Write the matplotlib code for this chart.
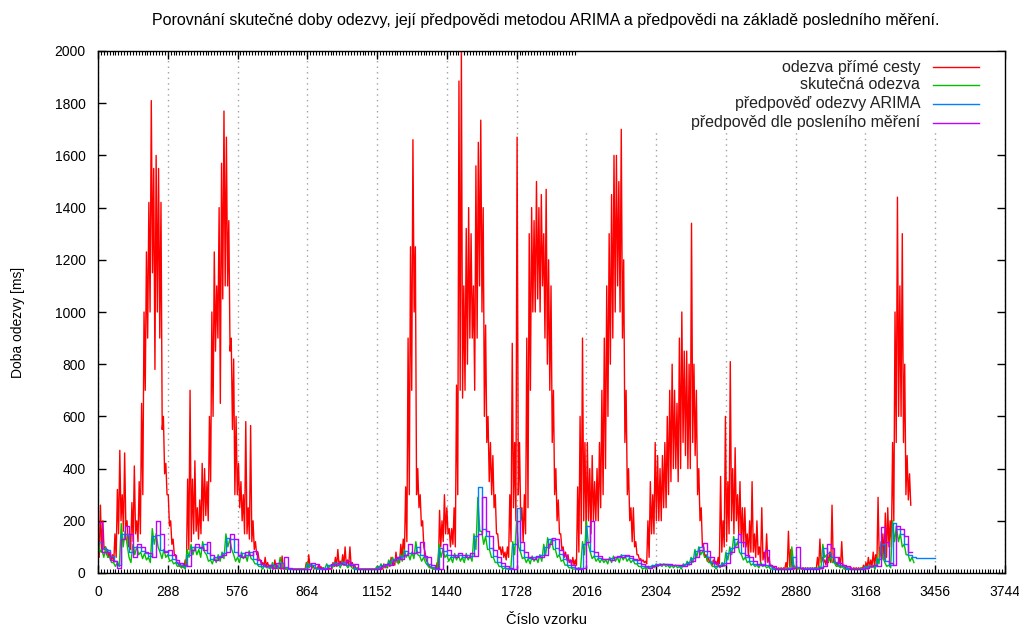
import numpy as np
import matplotlib
matplotlib.use('Agg')
import matplotlib.pyplot as plt
from matplotlib.ticker import MultipleLocator
from matplotlib.patches import Rectangle

plt.rcParams['font.family'] = ['Liberation Sans', 'DejaVu Sans']

# odezva prime cesty: maximum a minimum v kazdem useku 10 vzorku
krok_prima = 10
prima_max = [
    100, 260, 200, 100, 90, 80, 70, 150, 320, 470, 300, 460, 200, 150, 270, 410, 200, 350,
    650, 1000, 1230, 1420, 1810, 1550, 1600, 1550, 1420, 600, 420, 300, 200, 130, 70, 40, 35, 30, 50,
    360, 700, 360, 430, 250, 280, 420, 400, 350, 600, 1000, 1230, 1100, 1400, 1570, 1770, 1670, 1350, 900,
    820, 600, 420, 350, 300, 580, 250, 565, 200, 120, 80, 50, 40, 60,
    40, 30, 25, 50, 30, 20, 65, 20, 15, 15, 15, 15, 15, 15, 15, 15,
    40, 70, 35, 25, 20, 30, 25, 20, 15, 15, 15,
    40, 60, 90, 45, 70, 100, 50, 100, 40, 30, 20, 15, 15, 15, 15, 15, 15,
    15, 20, 25, 20, 35, 30, 40, 60, 50, 80, 60, 110, 130, 330, 900, 1250, 1660, 1250, 400, 300,
    200, 80, 40, 25, 20, 15,
    40, 240, 200, 300, 250, 170, 170, 250, 720, 1885, 2000, 1100, 1320, 1400, 1300, 1100, 1560, 1650, 1735, 1400,
    950, 600, 500, 450, 300, 150, 100, 100, 80, 100, 300, 880, 500, 1670, 500, 250, 300, 900, 1300, 1400,
    1350, 1500, 1400, 1450, 1300, 1470, 1200, 1100, 700, 400, 280, 150, 100, 80, 70, 50, 60, 50, 330, 600,
    900, 500, 500, 400, 450, 350, 400, 500, 700, 900, 1100, 1300, 1450, 1600, 1600, 1500, 1700, 1200, 700, 400,
    250, 250, 120, 70, 55, 50, 45, 200, 350, 300, 500, 450, 400, 450, 500, 600, 700, 800, 700, 650,
    900, 1000, 850, 850, 800, 1340, 800, 700, 400, 250, 100, 70, 60, 45, 50, 45, 60, 370, 200, 600,
    350, 810, 400, 480, 300, 350, 250, 250, 150, 200, 350, 150, 200, 100, 250, 80, 150, 60, 30, 25,
    20, 20, 20, 20, 40, 160, 90, 30, 20, 20, 20, 20, 20, 20, 20, 20, 20, 60, 130, 60,
    50, 70, 80, 260, 60, 40, 60, 120, 30, 25, 20, 20, 20, 20, 20, 20, 30, 40, 60, 50,
    80, 70, 290, 100, 150, 230, 250, 200, 500, 1000, 1440, 1100, 1300, 800, 450, 380,
]
prima_min = [
    60, 80, 90, 70, 60, 50, 40, 60, 150, 200, 160, 180, 100, 90, 120, 150, 120, 150,
    300, 700, 900, 1000, 1150, 780, 1000, 900, 550, 380, 300, 180, 110, 70, 40, 25, 20, 20, 25,
    90, 120, 150, 160, 130, 150, 200, 220, 200, 350, 600, 850, 900, 650, 1050, 1100, 1100, 850, 550,
    300, 300, 250, 200, 150, 150, 130, 120, 90, 70, 50, 30, 25, 25,
    25, 20, 15, 20, 15, 15, 15, 15, 15, 15, 15, 15, 15, 15, 15, 15,
    15, 25, 20, 15, 15, 15, 15, 15, 15, 15, 15,
    25, 25, 30, 30, 30, 30, 30, 25, 20, 15, 15, 15, 15, 15, 15, 15, 15,
    15, 15, 15, 15, 20, 20, 25, 30, 30, 40, 40, 60, 80, 120, 300, 700, 1000, 300, 250, 180,
    100, 50, 30, 20, 15, 15,
    15, 100, 120, 150, 150, 100, 110, 100, 300, 700, 670, 700, 800, 900, 900, 700, 900, 1100, 1000, 600,
    500, 350, 300, 250, 150, 90, 70, 60, 50, 60, 120, 250, 200, 300, 200, 120, 150, 250, 700, 1000,
    1000, 1050, 1000, 1100, 900, 800, 700, 500, 300, 200, 150, 90, 60, 50, 40, 30, 30, 30, 80, 150,
    200, 150, 200, 150, 200, 200, 200, 250, 300, 400, 600, 800, 900, 1000, 1100, 1000, 900, 500, 300, 200,
    120, 100, 70, 50, 45, 40, 35, 60, 150, 150, 200, 200, 200, 250, 250, 300, 350, 400, 400, 350,
    400, 500, 450, 400, 400, 500, 450, 300, 200, 100, 60, 45, 40, 30, 30, 30, 35, 80, 100, 120,
    150, 200, 150, 200, 150, 120, 100, 100, 60, 80, 80, 60, 70, 40, 50, 40, 40, 25, 15, 15,
    15, 15, 15, 15, 15, 25, 20, 15, 15, 15, 15, 15, 15, 15, 15, 15, 15, 20, 40, 40,
    30, 40, 40, 40, 30, 25, 25, 25, 15, 15, 15, 15, 15, 15, 15, 15, 15, 20, 20, 25,
    30, 30, 50, 50, 50, 60, 100, 100, 200, 500, 600, 600, 500, 300, 280, 260,
]

# skutecna odezva (maximum a minimum), predpovedi ARIMA a dle posledniho mereni, po 16 vzorcich
krok = 16
skutecna_max = [
    130, 90, 100, 60, 40, 40, 190, 160, 60, 110, 100, 80, 75, 60, 170, 150, 80, 90, 70, 50,
    40, 30, 25, 90, 110, 100, 90, 120, 70, 50, 60, 70, 80, 150, 130, 70, 60, 80, 70, 85,
    50, 35, 25, 30, 20, 40, 20, 60, 20, 15, 15, 15, 15, 15, 40, 35, 20, 15, 20, 35,
    30, 40, 35, 45, 30, 35, 15, 15, 15, 15, 15, 15, 25, 35, 30, 50, 60, 55, 70, 90,
    75, 80, 120, 65, 60, 30, 20, 15, 110, 90, 70, 60, 75, 70, 60, 75, 65, 150, 290, 160,
    140, 90, 60, 40, 25, 20, 15, 120, 200, 80, 60, 55, 65, 60, 70, 110, 135, 130, 90, 70,
    50, 30, 20, 15, 20, 120, 200, 80, 65, 55, 55, 50, 60, 65, 60, 70, 65, 55, 50, 35,
    25, 20, 25, 30, 35, 35, 35, 30, 30, 30, 25, 35, 45, 60, 90, 100, 85, 60, 40, 25,
    30, 40, 80, 100, 140, 120, 70, 60, 45, 35, 30, 40, 30, 25, 15, 15, 15, 15, 20, 100,
    20, 18, 18, 18, 18, 20, 25, 110, 70, 60, 40, 30, 25, 15, 15, 15, 15, 20, 25, 30,
    25, 60, 120, 40, 30, 200, 180, 150, 110, 70, 60,
]
skutecna_min = [
    80, 60, 60, 40, 25, 25, 100, 110, 40, 70, 70, 55, 50, 40, 110, 100, 55, 60, 45, 35,
    25, 20, 15, 60, 70, 70, 60, 80, 45, 35, 40, 45, 55, 100, 90, 45, 40, 55, 45, 55,
    35, 25, 15, 20, 15, 20, 15, 20, 15, 15, 15, 15, 15, 15, 20, 20, 15, 15, 15, 20,
    20, 25, 20, 30, 20, 20, 15, 15, 15, 15, 15, 15, 15, 20, 20, 30, 40, 35, 45, 60,
    50, 55, 70, 45, 40, 20, 15, 15, 60, 60, 45, 40, 50, 45, 40, 50, 45, 90, 160, 110,
    90, 60, 40, 25, 15, 15, 15, 70, 100, 55, 40, 35, 45, 40, 45, 70, 95, 90, 60, 45,
    30, 20, 15, 15, 15, 70, 110, 55, 45, 40, 40, 35, 40, 45, 40, 50, 45, 40, 35, 25,
    15, 15, 15, 20, 25, 25, 25, 20, 20, 20, 15, 25, 30, 40, 60, 70, 60, 40, 25, 15,
    20, 25, 50, 70, 100, 80, 50, 40, 30, 25, 20, 25, 20, 15, 15, 15, 15, 15, 15, 30,
    15, 15, 15, 15, 15, 15, 15, 60, 45, 40, 25, 20, 15, 15, 15, 15, 15, 15, 15, 20,
    15, 35, 60, 25, 20, 120, 120, 100, 70, 45, 40,
]
arima = [
    120, 95, 90, 65, 45, 30, 150, 150, 80, 100, 100, 85, 75, 65, 140, 145, 90, 85, 70, 55,
    40, 30, 25, 70, 100, 100, 95, 110, 75, 55, 60, 65, 75, 135, 130, 80, 65, 75, 70, 80,
    55, 35, 28, 28, 22, 30, 22, 40, 22, 16, 15, 15, 15, 15, 35, 32, 20, 16, 20, 32,
    30, 38, 35, 42, 32, 33, 16, 15, 15, 15, 15, 15, 22, 32, 30, 45, 55, 55, 65, 85,
    75, 78, 100, 70, 60, 35, 22, 16, 95, 85, 70, 62, 70, 68, 62, 70, 65, 140, 330, 170,
    140, 95, 65, 42, 28, 20, 16, 110, 250, 90, 62, 58, 62, 60, 68, 100, 130, 125, 95, 72,
    52, 32, 22, 16, 20, 110, 180, 85, 65, 58, 55, 52, 58, 62, 62, 68, 65, 58, 50, 38,
    27, 22, 25, 30, 33, 34, 34, 32, 31, 30, 28, 33, 42, 58, 85, 98, 85, 62, 42, 28,
    30, 38, 75, 95, 130, 120, 75, 60, 46, 36, 32, 36, 30, 25, 17, 17, 17, 17, 20, 60,
    22, 20, 20, 20, 20, 20, 24, 95, 75, 60, 42, 30, 25, 16, 16, 16, 16, 20, 25, 28,
    26, 55, 110, 45, 32, 190, 170, 150, 110, 70, 60, 58, 58, 58, 58, 58, 58,
]
posledni = [
    195, 80, 80, 50, 45, 20, 130, 180, 150, 60, 110, 100, 80, 75, 60, 200, 150, 80, 90, 70,
    50, 40, 30, 25, 90, 110, 100, 90, 120, 70, 50, 60, 70, 80, 150, 130, 70, 60, 80, 70,
    85, 50, 35, 25, 30, 20, 40, 20, 60, 20, 15, 15, 15, 15, 15, 40, 35, 20, 15, 20,
    35, 30, 40, 35, 45, 30, 35, 15, 15, 15, 15, 15, 15, 25, 35, 30, 50, 60, 55, 70,
    110, 75, 80, 120, 65, 60, 30, 20, 15, 110, 90, 70, 60, 75, 70, 60, 75, 65, 150, 290,
    160, 140, 90, 60, 40, 25, 20, 15, 200, 120, 80, 60, 55, 65, 60, 70, 110, 135, 130, 90,
    70, 50, 30, 20, 15, 20, 120, 200, 80, 65, 55, 55, 50, 60, 65, 60, 70, 65, 55, 50,
    35, 25, 20, 25, 30, 35, 35, 35, 30, 30, 30, 25, 35, 45, 60, 90, 115, 85, 60, 40,
    25, 30, 40, 80, 100, 150, 120, 70, 60, 45, 35, 30, 90, 30, 25, 15, 15, 15, 15, 20,
    100, 20, 15, 15, 15, 15, 20, 25, 110, 95, 60, 40, 30, 25, 15, 15, 15, 15, 20, 25,
    30, 25, 175, 120, 40, 30, 180, 170, 140, 80, 80,
]

popisky = ['odezva přímé cesty', 'skutečná odezva',
           'předpověď odezvy ARIMA', 'předpověd dle posleního měření']
barvy = ['#ff0000', '#00c000', '#0080ff', '#c000ff']


def strida(hodnoty_max, hodnoty_min, k):
    # v kazdem useku nejdriv maximum, v pulce useku minimum
    x = np.empty(2 * len(hodnoty_max))
    y = np.empty(2 * len(hodnoty_max))
    x[0::2] = np.arange(len(hodnoty_max)) * k
    x[1::2] = np.arange(len(hodnoty_min)) * k + k / 2
    y[0::2] = hodnoty_max
    y[1::2] = hodnoty_min
    return x, y


fig = plt.figure(figsize=(10.19, 6.28), dpi=100)
ax = fig.add_axes([98/1019, 1 - 573/628, 907/1019, 522/628])

xr, yr = strida(prima_max, prima_min, krok_prima)
ax.plot(xr, yr, color=barvy[0], lw=1.0, zorder=2)
xg, yg = strida(skutecna_max, skutecna_min, krok)
ax.plot(xg, yg, color=barvy[1], lw=1.0, zorder=2.1)
ax.plot(np.arange(len(arima)) * krok, arima, color=barvy[2], lw=1.0, zorder=2.2,
        drawstyle='steps-post')
ax.plot(np.arange(len(posledni)) * krok, posledni, color=barvy[3], lw=1.0, zorder=2.3,
        drawstyle='steps-post')

ax.set_xlim(0, 3744)
ax.set_ylim(0, 2000)
ax.xaxis.set_major_locator(MultipleLocator(288))
ax.xaxis.set_minor_locator(MultipleLocator(12))
ax.yaxis.set_major_locator(MultipleLocator(200))
ax.tick_params(axis='both', which='major', direction='in', length=6, width=1,
               top=True, right=True, labelsize=10, pad=9, colors='black')
ax.tick_params(axis='x', which='minor', direction='in', length=3, width=0.8,
               top=True, bottom=True)
for s in ax.spines.values():
    s.set_linewidth(1.0)
    s.set_zorder(3)

ax.grid(True, axis='x', which='major', color='#a0a0a0', linestyle=(0, (1, 3)), lw=1.0)
ax.set_axisbelow(True)

# nepruhledne pozadi legendy
ax.add_patch(Rectangle((1981, 1690), 3744 - 1981, 310, facecolor='white',
                       edgecolor='none', zorder=1))
radky = [0.9693, 0.9349, 0.8985, 0.8621]
for txt, c, y in zip(popisky, barvy, radky):
    ax.text(0.9063, y, txt, transform=ax.transAxes, ha='right', va='center',
            fontsize=11.5, color='#222222', zorder=7)
    ax.plot([0.9206, 0.9713], [y, y], transform=ax.transAxes, color=c, lw=1.0,
            zorder=7, clip_on=False)

fig.text(546/1019, 1 - 20/628, 'Porovnání skutečné doby odezvy, její předpovědi metodou ARIMA '
         'a předpovědi na základě posledního měření.', ha='center', va='center', fontsize=11.5)
fig.text(18/1019, 1 - 322/628, 'Doba odezvy [ms]', rotation=90, ha='center', va='center',
         fontsize=10)
fig.text(546/1019, 1 - 620/628, 'Číslo vzorku', ha='center', va='center', fontsize=10.5)

plt.savefig('out.png', dpi=100)
